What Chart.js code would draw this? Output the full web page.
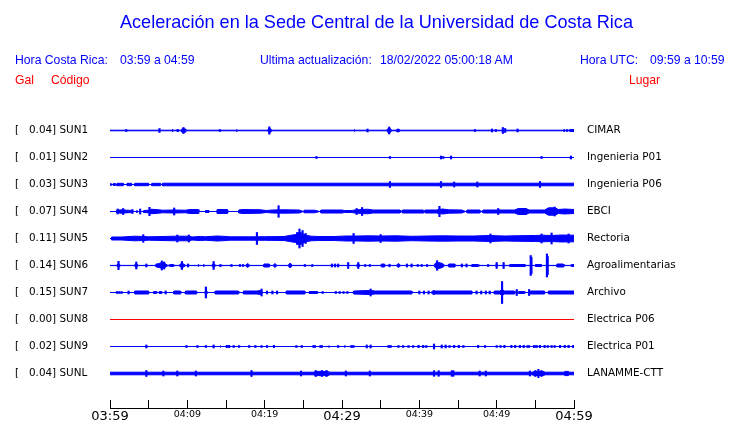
<!DOCTYPE html>
<html>
<head>
<meta charset="utf-8">
<script src="https://cdn.jsdelivr.net/npm/chart.js@4.4.1/dist/chart.umd.min.js"></script>
<style>
  body { margin: 0; width: 740px; height: 423px; background: #fff; position: relative; overflow: hidden;
         font-family: "Liberation Sans", Arial, sans-serif; }
  canvas { position: absolute; left: 0; top: 0; }
  .t { position: absolute; white-space: pre; line-height: 1; font-size: 12.2px; color: #0000ff; }
  .r { color: #ff0000; }
  #title { position: absolute; left: 120px; top: 13px; font-size: 18.1px; line-height: 1; color: #0000ff; white-space: pre; }
</style>
</head>
<body>
<canvas id="traces" width="740" height="423"></canvas>
<canvas id="axis" width="740" height="423"></canvas>

<div id="title">Aceleración en la Sede Central de la Universidad de Costa Rica</div>
<div class="t" style="left:15px; top:54px">Hora Costa Rica:</div>
<div class="t" style="left:120px; top:54px">03:59 a 04:59</div>
<div class="t" style="left:260px; top:54px">Ultima actualización:</div>
<div class="t" style="left:380px; top:54px">18/02/2022 05:00:18 AM</div>
<div class="t" style="left:580px; top:54px">Hora UTC:</div>
<div class="t" style="left:650px; top:54px">09:59 a 10:59</div>
<div class="t r" style="left:15px; top:74px">Gal</div>
<div class="t r" style="left:51px; top:74px">Código</div>
<div class="t r" style="left:629px; top:74px">Lugar</div>

<script>
// estaciones
const codes = ['SUN1', 'SUN2', 'SUN3', 'SUN4', 'SUN5', 'SUN6', 'SUN7', 'SUN8', 'SUN9', 'SUNL'];
const peaks = ['0.04', '0.01', '0.03', '0.07', '0.11', '0.14', '0.15', '0.00', '0.02', '0.04'];
const places = ['CIMAR', 'Ingenieria P01', 'Ingenieria P06', 'EBCI', 'Rectoria', 'Agroalimentarias',
                'Archivo', 'Electrica P06', 'Electrica P01', 'LANAMME-CTT'];
const timeTicks = ['03:59', '04:09', '04:19', '04:29', '04:39', '04:49', '04:59'];

// envolvente [minuto, semi-amplitud] y picos [minuto, semi-amplitud]
const envSUN1 = [[0,.8],[8.0,.8],[8.1,1.8],[8.2,.8],[9.2,.8],[9.3,2.2],[9.7,2.2],[9.8,.8],[16.3,.8],[16.4,1.5],[16.5,.8],
  [20.4,.8],[20.5,2.2],[20.8,2.2],[20.9,.8],[31.5,.8],[31.6,1.5],[31.7,.8],[35.8,.8],[35.9,2.2],[36.3,2.2],[36.4,.8],
  [37.0,.8],[37.1,1.8],[37.4,1.8],[37.5,.8],[58.6,.8],[58.7,1.5],[58.9,.8],[59.1,1.5],[59.3,.8],[59.5,1.5],[60,1.5]];
const spikesSUN1 = [[2.1,1],[6.4,2],[8.75,1.2],[9.5,3],[14.2,1],[20.6,3.7],[33.3,1.5],[36.1,3.5],[47.2,1],[49.4,1.5],
  [49.9,1],[50.8,3],[51.1,2],[52.7,1.5]];

const envSUN2 = [[0,0],[60,0]];
const spikesSUN2 = [[26.7,1],[36.2,1],[42.8,1.5],[43.1,1],[44.1,1.5],[55.8,1],[59.6,1.5]];

const envSUN3 = [[0,1.2],[0.2,1.2],[0.25,.4],[0.4,.4],[0.45,1.5],[0.65,1.5],[0.7,.4],[0.85,.4],[0.9,1.7],[1.7,1.7],
  [1.75,.4],[2.15,.4],[2.2,1.7],[2.8,1.7],[2.85,.4],[3.15,.4],[3.2,1.7],[5.0,1.7],[5.05,.4],[5.35,.4],[5.4,1.7],
  [6.5,1.7],[6.55,.4],[6.75,.4],[6.8,1.8],[60,1.8]];
const spikesSUN3 = [[36.2,3],[42.8,3],[44.5,2.5],[47.5,2.5],[55.6,3]];

const envSUN4 = [[0,.3],[0.8,.3],[0.85,1.8],[1.5,2.2],[2.2,1.8],[2.8,1.6],[2.85,.3],[3.4,.3],[3.45,1.5],[3.7,.3],
  [4.3,.3],[4.35,1.5],[5.0,1.8],[5.3,2.8],[6.3,2.2],[6.8,1.8],[8.2,2],[9.8,1.8],[10.3,2.5],[11.4,2.5],[11.5,.3],
  [12.3,.3],[12.35,1.5],[12.8,1.5],[12.85,.3],[13.8,.3],[13.85,2.5],[15.2,2.5],[15.3,.3],[16.6,.3],[16.65,2],
  [17.2,2.5],[19.5,2.2],[20.2,1.5],[21,2],[22.5,2.2],[24.5,2],[25,.3],[25.1,1.8],[26.5,1.8],[26.6,1.6],[27.1,.3],
  [27.3,2],[30,2],[30.3,1.5],[31.3,1.5],[31.6,2],[33.3,2.8],[34,2],[37.5,2],[37.7,.3],[37.8,2],[40.5,2],[40.6,.3],
  [40.8,2],[42.2,2],[43,3],[43.8,2.2],[45.5,2],[46,.3],[46.2,2],[47.8,2],[48,.3],[48.3,2],[52.3,2],[52.8,3.5],
  [53.8,3.5],[54.2,2],[56.2,2],[56.7,4.2],[57.5,4.2],[58,2.5],[58.8,3],[60,2.5]];
const spikesSUN4 = [[1.0,2.5],[1.7,3],[2.9,2],[3.9,2.5],[5.1,4.2],[8.3,3.5],[21.8,5.8],[31.9,3],[32.6,4],[42.6,5.2],
  [50.2,3],[57.5,4.5]];

const envSUN5 = [[0,.5],[0.15,.5],[0.2,2],[1.5,2],[3.2,2.8],[4.4,2.5],[5,2.2],[8.5,2.8],[10.3,2.8],[10.6,2],[11.7,2.6],
  [12.3,2.2],[13.8,3],[14.5,2.8],[15.5,2.2],[18,2.2],[20,2.3],[22.5,2.5],[23.2,3.5],[24,4.5],[24.5,7],[25,5],
  [25.5,3.5],[26,2.8],[27,2.5],[29,2.5],[30.5,3],[32,3],[33.5,3.2],[35,3],[37,3.2],[39,2.7],[41,3],[43,3.2],[45,3],
  [47,3],[49,3.5],[51,3],[53,3.3],[55,3.5],[56,3.8],[57,3.5],[58.5,4],[60,3.8]];
const spikesSUN5 = [[4.3,3.8],[8.7,3.5],[10.2,3.5],[19,6],[24.2,6],[24.5,9.5],[24.9,8],[25.3,5],[31.5,5],[35,4],
  [49.2,4.5],[55.8,4.5],[57.1,5.5],[59.3,4.5]];

const envSUN6 = [[0,.6],[0.8,.6],[1.1,2.5],[1.4,.6],[3.1,.6],[3.4,2.5],[3.7,.6],[5.8,.6],[6.0,2],[6.3,2.5],[6.7,3.2],
  [7.1,2.5],[7.5,.6],[7.8,1.5],[8.2,1.5],[8.4,.6],[8.9,.6],[9.3,3],[9.8,.6],[11.3,.6],[11.4,1.5],[11.6,.6],[12.0,.6],
  [12.1,1.5],[12.3,.6],[13.1,.6],[13.4,2.5],[13.7,.6],[14.1,.6],[14.2,1.5],[14.6,.6],[17.5,.6],[17.8,2.5],[18.1,.6],
  [19.8,.6],[19.9,2],[20.6,2],[20.7,.6],[21.1,.6],[21.3,2.5],[21.6,.6],[23.0,.6],[23.3,3],[23.6,.6],[26.0,.6],
  [26.1,1.5],[26.4,.6],[31.8,.6],[32.1,2],[32.4,.6],[35.0,.6],[35.1,2],[35.5,2],[35.6,.6],[36.0,.6],[36.1,2],
  [36.4,.6],[37.0,.6],[37.3,2.5],[37.6,.6],[41.9,.6],[42.1,3],[42.5,3.5],[43.0,2.5],[43.3,.6],[43.7,.6],[43.8,2],
  [44.6,2],[44.7,.6],[46.7,.6],[46.8,1.5],[47.6,1.5],[47.7,.6],[49.8,.6],[50,2],[50.2,.6],[51.6,.6],[51.7,1.5],
  [53.7,1.5],[53.8,.6],[54.9,.6],[55,1.5],[55.8,1.5],[55.9,.6],[57.7,.6],[57.8,2],[58.6,2],[58.7,.6],[59.5,.6],
  [59.7,1.5],[60,1.5]];
const spikesSUN6 = [[1.1,4.2],[3.4,3.5],[4.7,1.5],[6.7,4.5],[7.0,3.5],[9.3,4],[10.1,1.5],[13.4,4],[15.7,1],[16.8,1],
  [17.2,1],[25.2,1],[28.7,1.5],[29.1,1.5],[29.5,1.5],[30.8,3],[32.1,3],[33,1],[33.6,1],[38.4,1.5],[39.0,1.5],[39.8,1],
  [40.3,1],[41,1],[42.3,4.8],[45.5,1.5],[46.1,1.5],[48.9,1],[50,3],[50.9,3],[54.4,10],[54.5,8],[56.5,11.5],[56.6,9]];

const envSUN7 = [[0,.3],[3.1,.3],[3.2,2],[5.0,2],[5.05,.3],[5.6,.3],[5.65,1.5],[6.0,1.5],[6.05,.3],[6.3,.3],[6.35,1.5],
  [6.7,1.5],[6.75,.3],[8.2,.3],[8.25,2],[9.1,2],[9.15,.3],[9.7,.3],[9.75,2],[11.2,2],[11.25,.3],[12.2,.3],[12.4,2.5],
  [12.7,.3],[13.5,.3],[13.6,2],[16.6,2],[16.65,.3],[17.2,.3],[17.25,2],[19.0,2],[19.4,2.5],[19.8,.3],[22.7,.3],
  [22.8,2],[25.2,2],[25.25,.3],[25.7,.3],[25.75,1.5],[26.8,1.5],[26.85,.3],[31.4,.3],[31.5,2],[33.6,2.5],[34.3,2],
  [39,2],[39.05,.3],[41.5,.3],[41.8,2.5],[42.1,2],[46.8,2],[46.85,.3],[49.6,.3],[49.7,2],[50.4,2],[50.7,3.5],[51,2],
  [52.3,2],[52.35,.3],[52.8,.3],[52.85,1.5],[53.6,1.5],[53.65,.3],[54.3,.3],[54.35,2],[56.2,2],[56.25,.3],[56.6,.3],
  [56.7,2],[60,2]];
const spikesSUN7 = [[0.9,1],[1.2,1],[1.5,1],[2.4,1.5],[7.2,1.5],[12.4,5.5],[19.6,3.5],[20.3,1.5],[21,1.5],[21.6,1.5],
  [27.5,1],[29.2,1],[29.7,1],[30.2,1],[30.7,1],[33.7,3.5],[40,1.5],[40.6,1.5],[41.2,1.5],[47.4,1.5],[48,1.5],
  [48.6,1.5],[49.1,1.5],[50.7,11],[52.6,3],[54.2,3]];

const envSUN8 = [[0,0],[60,0]];
const spikesSUN8 = [];

const envSUN9 = [[0,0],[14.2,0],[14.3,1.2],[14.4,0],[26.1,0],[26.2,1.3],[26.6,1.3],[26.7,0],[27.0,0],[27.1,1.3],
  [27.5,1.3],[27.6,0],[28.2,0],[28.3,1.2],[28.5,0],[30.2,0],[30.3,1.2],[30.6,0],[31,0],[31.1,1.3],[31.6,1.3],[31.7,0],
  [35.8,0],[35.9,1.3],[36.4,1.3],[36.5,0],[53.8,0],[53.9,1.3],[54.3,1.3],[54.4,0],[54.6,0],[54.7,1.3],[55.3,1.3],
  [55.4,0],[60,0]];
const spikesSUN9 = [[4.7,1.5],[9.9,1],[11.3,1],[12.4,1],[13.4,1.5],[15.1,1.2],[15.4,1.2],[16,1],[16.7,1],[18,1],
  [18.8,1],[19.6,1],[20.3,1],[21.2,1.2],[24.1,1],[24.8,1],[29.5,1],[33.2,1.5],[33.7,1.5],[37.3,1],[37.9,1],[38.6,1],
  [39.2,1],[39.9,1.2],[40.5,1.2],[40.9,1],[41.9,2.5],[42.9,1.5],[43.4,1.5],[43.9,1],[44.5,1.2],[45.1,1.2],[45.7,1],
  [47.6,1.2],[48.5,1],[50,1],[50.5,1],[51,1.2],[51.9,1.2],[52.4,1.2],[53,1.2],[53.5,1.2],[55.6,1.2],[56.2,1.2],
  [56.6,1],[57.1,1],[57.5,1],[58.2,1.2],[58.8,1.2],[59.3,1.2],[59.9,1.2]];

const envSUNL = [[0,1.8],[26.4,1.8],[26.5,2.6],[28.2,2.6],[28.3,1.8],[54.5,1.8],[55,2.5],[56,2.5],[56.3,1.8],
  [58.7,1.8],[58.8,2.6],[59.3,2.6],[59.4,1.8],[60,1.8]];
const spikesSUNL = [[4.7,3],[6.9,2.5],[8.7,2.5],[11.1,2.5],[18.3,3],[24.7,2.5],[26.6,3],[27.4,3],[28,3],[30.5,2.5],
  [33.6,2.5],[41.9,2.8],[42.5,2.8],[44.2,2.8],[44.4,2.8],[47.8,2.5],[48.6,2.5],[54.3,2.5],[55,3],[55.4,4.2],[55.8,3]];

const envelopes = [envSUN1, envSUN2, envSUN3, envSUN4, envSUN5, envSUN6, envSUN7, envSUN8, envSUN9, envSUNL];
const spikes = [spikesSUN1, spikesSUN2, spikesSUN3, spikesSUN4, spikesSUN5, spikesSUN6, spikesSUN7, spikesSUN8,
                spikesSUN9, spikesSUNL];

const BLUE = '#0000ff';
const RED = '#ff0000';
const ROW = 27;
const center = k => ROW / 2 + ROW * k;

// datasets: banda (dos lineas con relleno) + picos como barras flotantes
const datasets = [];
codes.forEach((code, k) => {
  const c = center(k);
  const color = code === 'SUN8' ? RED : BLUE;
  const env = envelopes[k];
  datasets.push({
    type: 'line', data: env.map(([t, a]) => ({ x: t, y: c - Math.max(a - 0.5, 0) })),
    borderColor: color, backgroundColor: color, fill: false
  });
  datasets.push({
    type: 'line', data: env.map(([t, a]) => ({ x: t, y: c + Math.max(a - 0.5, 0) })),
    borderColor: color, backgroundColor: color, fill: '-1'
  });
  if (spikes[k].length) {
    datasets.push({
      type: 'bar', data: spikes[k].map(([t, a]) => ({ x: t, y: [c - a, c + a] })),
      backgroundColor: color, borderWidth: 0, barThickness: 1.5, grouped: false
    });
  }
});

const labelFont = { family: 'DejaVu Sans', size: 10.4 };
const rowTicks = scale => { scale.ticks = codes.map((_, k) => ({ value: center(k) })); };

new Chart(document.getElementById('traces'), {
  type: 'line',
  data: { datasets },
  options: {
    responsive: false,
    animation: false,
    devicePixelRatio: 1,
    layout: { padding: { left: 15, top: 117, bottom: 36, right: 0 } },
    plugins: { legend: { display: false }, tooltip: { enabled: false } },
    elements: { point: { radius: 0 }, line: { borderWidth: 1, tension: 0 } },
    scales: {
      x: { type: 'linear', min: 0, max: 60, display: false, offset: false },
      y: {
        type: 'linear', min: 0, max: ROW * 10, reverse: true, position: 'left',
        grid: { display: false, drawTicks: false }, border: { display: false },
        afterBuildTicks: rowTicks,
        afterFit: scale => { scale.width = 95; },
        ticks: {
          crossAlign: 'far', padding: 0, color: '#000', font: labelFont, autoSkip: false,
          callback: (v, i) => '[   ' + peaks[i] + '] ' + codes[i]
        }
      },
      y2: {
        type: 'linear', min: 0, max: ROW * 10, reverse: true, position: 'right',
        grid: { display: false, drawTicks: false }, border: { display: false },
        afterBuildTicks: rowTicks,
        afterFit: scale => { scale.width = 166; },
        ticks: {
          padding: 13, color: '#000', font: labelFont, autoSkip: false,
          callback: (v, i) => places[i]
        }
      }
    }
  }
});

// eje de tiempo
new Chart(document.getElementById('axis'), {
  type: 'line',
  data: { datasets: [] },
  options: {
    responsive: false,
    animation: false,
    devicePixelRatio: 1,
    layout: { padding: { left: 110, right: 166, top: 400, bottom: 0 } },
    plugins: { legend: { display: false }, tooltip: { enabled: false } },
    scales: {
      x: {
        type: 'linear', min: 0, max: 60, offset: false,
        grid: { color: '#000', drawTicks: false, lineWidth: 1 },
        border: { display: true, color: '#000', width: 1 },
        afterFit: scale => { scale.height = 15; },
        ticks: {
          stepSize: 5, autoSkip: false, maxRotation: 0, minRotation: 0, padding: 1, color: '#000',
          callback: v => (v % 10 === 0 ? timeTicks[v / 10] : ''),
          font: ctx => ({ family: 'DejaVu Sans', size: ctx.tick && ctx.tick.value % 30 === 0 ? 13 : 9.5 })
        }
      },
      y: { display: false, min: 0, max: 1 }
    }
  }
});
</script>
</body>
</html>
